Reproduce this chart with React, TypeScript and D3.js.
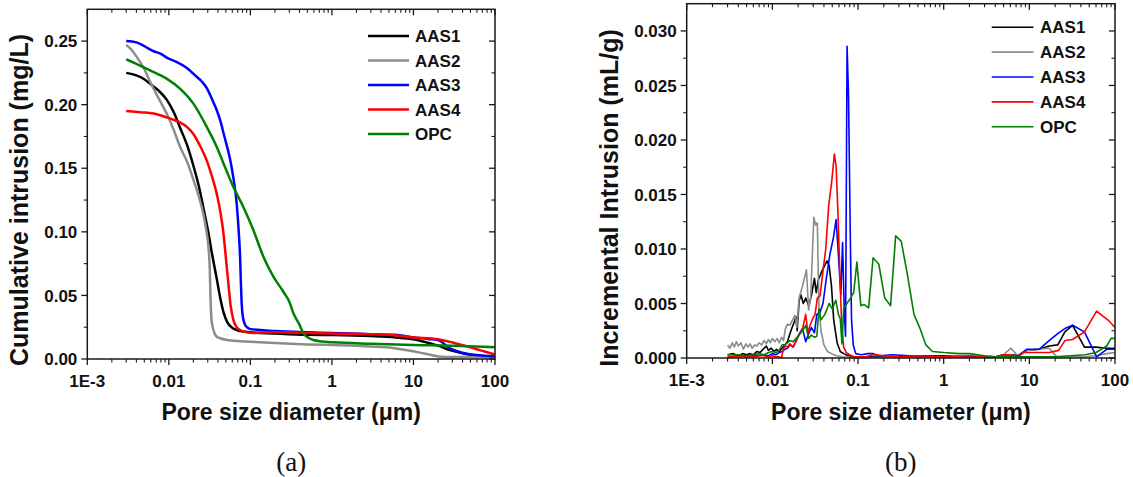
import React from 'react';
import * as d3 from 'd3';

type Pt = [number, number];

const seriesNames = ['AAS1', 'AAS2', 'AAS3', 'AAS4', 'OPC'];
const seriesColors = ['#000000', '#8c8c8c', '#0000ff', '#ff0000', '#008000'];

const xMajorTicks = [0.001, 0.01, 0.1, 1, 10, 100];
const xTickLabels = ['1E-3', '0.01', '0.1', '1', '10', '100'];

const cumTicks = [0, 0.05, 0.1, 0.15, 0.2, 0.25];
const cumTickLabels = ['0.00', '0.05', '0.10', '0.15', '0.20', '0.25'];
const incTicks = [0, 0.005, 0.01, 0.015, 0.02, 0.025, 0.03];
const incTickLabels = ['0.000', '0.005', '0.010', '0.015', '0.020', '0.025', '0.030'];

// (a) Cumulative intrusion, x = pore diameter (µm)
const cumAAS1: Pt[] = [[0.003,0.225],[0.004,0.223],[0.005,0.220],[0.006,0.216],[0.0075,0.211],[0.0094,0.204],[0.0115,0.194],[0.0137,0.182],[0.017,0.167],[0.020,0.152],[0.0235,0.135],[0.0265,0.119],[0.030,0.102],[0.034,0.082],[0.0387,0.063],[0.043,0.047],[0.0467,0.037],[0.052,0.029],[0.0617,0.024],[0.075,0.022],[0.098,0.021],[0.2,0.020],[0.5,0.019],[1,0.0188],[3,0.018],[6,0.017],[10,0.0155],[15,0.0128],[20,0.0105],[28,0.007],[40,0.0045],[60,0.0026],[100,0.002]];
const cumAAS2: Pt[] = [[0.003,0.247],[0.0035,0.243],[0.004,0.238],[0.005,0.228],[0.006,0.217],[0.0075,0.205],[0.0094,0.193],[0.0115,0.180],[0.0137,0.167],[0.017,0.154],[0.020,0.141],[0.0235,0.127],[0.0265,0.114],[0.029,0.100],[0.0306,0.088],[0.0318,0.070],[0.0325,0.046],[0.0335,0.030],[0.0352,0.0228],[0.038,0.018],[0.0425,0.0163],[0.055,0.0148],[0.075,0.014],[0.098,0.0136],[0.2,0.0125],[0.5,0.0115],[1,0.011],[2,0.0105],[3,0.0098],[5,0.009],[8,0.007],[12,0.005],[17,0.003],[22,0.0018],[30,0.0015],[60,0.0015],[100,0.0015]];
const cumAAS3: Pt[] = [[0.003,0.250],[0.004,0.249],[0.005,0.246],[0.0065,0.242],[0.008,0.240],[0.0094,0.237],[0.012,0.234],[0.0165,0.229],[0.021,0.223],[0.0255,0.218],[0.0292,0.213],[0.034,0.204],[0.0385,0.196],[0.0425,0.188],[0.048,0.175],[0.0564,0.157],[0.062,0.142],[0.068,0.122],[0.072,0.100],[0.0748,0.080],[0.0765,0.060],[0.078,0.045],[0.081,0.033],[0.086,0.027],[0.093,0.0245],[0.1,0.0235],[0.2,0.022],[0.5,0.021],[1,0.0205],[3,0.0195],[6,0.019],[10,0.017],[15,0.0158],[20,0.015],[28,0.0083],[41,0.0047],[74,0.0025],[100,0.002]];
const cumAAS4: Pt[] = [[0.003,0.195],[0.0045,0.194],[0.0065,0.193],[0.0094,0.190],[0.0115,0.188],[0.0137,0.186],[0.017,0.182],[0.020,0.177],[0.024,0.168],[0.0292,0.156],[0.034,0.143],[0.0387,0.130],[0.043,0.115],[0.0467,0.099],[0.050,0.080],[0.0537,0.0595],[0.057,0.043],[0.0617,0.031],[0.068,0.025],[0.0748,0.0228],[0.09,0.021],[0.109,0.0205],[0.2,0.021],[0.5,0.0205],[1,0.020],[3,0.0195],[5,0.019],[10,0.017],[20,0.0155],[30,0.013],[45,0.010],[65,0.007],[100,0.0035]];
const cumOPC: Pt[] = [[0.003,0.2357],[0.004,0.232],[0.00588,0.227],[0.0094,0.2205],[0.0137,0.2126],[0.020,0.2008],[0.0292,0.1825],[0.0387,0.1668],[0.0467,0.154],[0.0617,0.1354],[0.082,0.1196],[0.109,0.1013],[0.1445,0.0804],[0.1915,0.0647],[0.254,0.0529],[0.3,0.045],[0.337,0.0359],[0.4,0.027],[0.447,0.0202],[0.52,0.0165],[0.593,0.0149],[0.75,0.0138],[1.05,0.0131],[3,0.012],[10,0.011],[30,0.0105],[60,0.0098],[100,0.0092]];

// (b) Incremental intrusion
const incAAS1: Pt[] = [[0.003,0.0003],[0.0035,0.0004],[0.004,0.0002],[0.0045,0.0004],[0.005,0.0003],[0.0055,0.0004],[0.006,0.0003],[0.0066,0.0006],[0.0072,0.0005],[0.0078,0.0008],[0.0085,0.0011],[0.009,0.0007],[0.0097,0.0009],[0.0105,0.0006],[0.0112,0.0008],[0.012,0.0006],[0.013,0.0009],[0.014,0.0012],[0.015,0.0015],[0.016,0.0022],[0.017,0.0028],[0.018,0.0033],[0.0188,0.0038],[0.0195,0.0025],[0.0205,0.0052],[0.0215,0.0058],[0.023,0.0050],[0.0245,0.0055],[0.0265,0.0048],[0.0285,0.0057],[0.031,0.0073],[0.0325,0.0060],[0.0345,0.0072],[0.038,0.0080],[0.0435,0.0089],[0.046,0.0085],[0.049,0.0066],[0.052,0.0035],[0.057,0.0014],[0.062,0.0006],[0.068,0.0004],[0.077,0.0002],[0.09,0.0001],[0.12,0.0001],[0.2,0.0001],[0.5,0.0001],[1,0.0001],[2,0.0001],[4,0.0001],[5,0.0003],[6.2,0.0003],[7.4,0.0002],[9.3,0.0007],[13,0.0008],[17,0.0011],[21.5,0.0012],[26,0.0024],[32,0.0030],[44,0.0010],[60,0.0010],[80,0.0009],[100,0.0009]];
const incAAS2: Pt[] = [[0.003,0.0012],[0.0032,0.0009],[0.0034,0.0014],[0.0036,0.0010],[0.0038,0.0015],[0.004,0.0011],[0.0043,0.0014],[0.0046,0.0008],[0.0049,0.0013],[0.0052,0.0010],[0.0055,0.0013],[0.0058,0.0009],[0.0062,0.0012],[0.0066,0.0011],[0.007,0.0014],[0.0075,0.0012],[0.008,0.0016],[0.0085,0.0013],[0.009,0.0017],[0.0095,0.0014],[0.01,0.0018],[0.0107,0.0015],[0.0114,0.0018],[0.012,0.0014],[0.0128,0.0019],[0.0135,0.0016],[0.0142,0.0027],[0.015,0.0031],[0.016,0.0030],[0.017,0.0034],[0.0183,0.0039],[0.0193,0.0028],[0.0205,0.0055],[0.0225,0.0066],[0.025,0.0081],[0.0265,0.0044],[0.028,0.0055],[0.0305,0.0129],[0.032,0.0122],[0.0335,0.0124],[0.035,0.0045],[0.037,0.0025],[0.040,0.0012],[0.044,0.0006],[0.049,0.0004],[0.056,0.0002],[0.066,0.0001],[0.1,0.0],[0.3,0.0001],[1,0.0001],[3,0.0001],[4.5,0.0001],[5,0.0003],[6.1,0.0009],[7.3,0.0002],[9.3,0.0007],[13,0.0008],[17,0.0009],[21,0.0001],[30,0.0001],[45,0.0001],[60,0.0002],[80,0.0004],[100,0.0005]];
const incAAS3: Pt[] = [[0.003,0.0001],[0.004,0.0002],[0.005,0.0001],[0.006,0.0002],[0.007,0.0002],[0.008,0.0003],[0.009,0.0002],[0.010,0.0004],[0.011,0.0003],[0.012,0.0005],[0.013,0.0006],[0.014,0.0008],[0.015,0.0009],[0.016,0.0012],[0.0175,0.0010],[0.0188,0.0015],[0.0205,0.0022],[0.0225,0.0027],[0.0245,0.0015],[0.0265,0.0022],[0.0285,0.0028],[0.031,0.0023],[0.033,0.0040],[0.036,0.0042],[0.039,0.0050],[0.043,0.0075],[0.047,0.0095],[0.0515,0.0110],[0.0555,0.0127],[0.059,0.0095],[0.063,0.0058],[0.066,0.0106],[0.069,0.0045],[0.0715,0.0020],[0.0745,0.0286],[0.0775,0.0240],[0.081,0.0120],[0.084,0.0035],[0.088,0.0012],[0.094,0.0004],[0.11,0.0003],[0.13,0.0004],[0.15,0.0004],[0.18,0.0002],[0.25,0.0003],[0.4,0.0002],[1,0.0002],[2,0.0001],[4,0.0001],[5,0.0003],[6.2,0.0003],[7.4,0.0002],[9.3,0.0008],[13,0.0008],[17,0.0016],[22,0.0023],[26,0.0027],[32,0.0030],[44,0.0024],[61,0.0001],[80,0.0008],[100,0.0008]];
const incAAS4: Pt[] = [[0.003,0.0001],[0.004,0.0001],[0.005,0.0002],[0.006,0.0001],[0.007,0.0002],[0.008,0.0002],[0.009,0.0001],[0.010,0.0002],[0.011,0.0001],[0.012,0.0001],[0.0128,0.0],[0.0134,0.0008],[0.0142,0.0011],[0.015,0.0010],[0.016,0.0013],[0.0175,0.0010],[0.019,0.0016],[0.0205,0.0021],[0.0225,0.0027],[0.0245,0.0040],[0.026,0.0023],[0.0275,0.0030],[0.0295,0.0036],[0.0315,0.0040],[0.0335,0.0055],[0.036,0.0057],[0.039,0.0080],[0.042,0.0100],[0.0455,0.0140],[0.049,0.0160],[0.053,0.0187],[0.0555,0.0176],[0.0585,0.0130],[0.0615,0.0075],[0.0645,0.0030],[0.068,0.0010],[0.073,0.0005],[0.08,0.0003],[0.09,0.0001],[0.12,0.0001],[0.15,0.0003],[0.2,0.0002],[0.3,0.0001],[0.5,0.0002],[1,0.0001],[2,0.0002],[4,0.0001],[5,0.0003],[6.2,0.0003],[7.4,0.0001],[8.5,0.0005],[13,0.0005],[17,0.0005],[22,0.0007],[26,0.0016],[32,0.0017],[44,0.0024],[61,0.0043],[85,0.0034],[100,0.0028]];
const incOPC: Pt[] = [[0.003,0.0003],[0.004,0.0003],[0.005,0.0002],[0.006,0.0003],[0.007,0.0004],[0.008,0.0003],[0.009,0.0005],[0.010,0.0006],[0.011,0.0005],[0.012,0.0007],[0.013,0.0012],[0.014,0.0012],[0.015,0.0014],[0.016,0.0016],[0.0175,0.0015],[0.019,0.0018],[0.0205,0.0021],[0.0225,0.0025],[0.0245,0.0030],[0.0265,0.0018],[0.0285,0.0021],[0.031,0.0019],[0.033,0.0020],[0.035,0.0045],[0.037,0.0035],[0.041,0.0040],[0.046,0.0050],[0.050,0.0045],[0.055,0.0053],[0.059,0.0040],[0.062,0.0036],[0.065,0.0013],[0.068,0.0045],[0.074,0.0050],[0.082,0.0055],[0.089,0.0060],[0.097,0.0088],[0.103,0.0065],[0.108,0.0048],[0.118,0.0049],[0.133,0.0046],[0.150,0.0092],[0.175,0.0086],[0.205,0.0055],[0.24,0.0048],[0.275,0.0112],[0.32,0.0107],[0.38,0.0075],[0.45,0.0040],[0.53,0.0027],[0.62,0.0012],[0.74,0.0006],[1,0.0005],[1.5,0.0004],[2,0.0004],[3,0.0002],[4,0.0001],[6,0.0001],[10,0.0001],[20,0.0001],[30,0.0002],[45,0.0003],[60,0.0005],[80,0.0011],[90,0.0018],[100,0.0018]];

const cumSeries = [cumAAS1, cumAAS2, cumAAS3, cumAAS4, cumOPC];
const incSeries = [incAAS1, incAAS2, incAAS3, incAAS4, incOPC];

const FONT = '"Liberation Sans", Arial, Helvetica, sans-serif';
const AXIS = '#1a1a1a';

interface PanelProps {
  left: number; right: number; top: number; bottom: number;
  yMax: number; yTicks: number[]; yLabels: string[]; yMinorStep: number;
  series: Pt[][]; lineWidth: number; smooth: boolean;
  yTitle: string; yTitleX: number; yTitleY: number; caption: string;
  legend: { x1: number; x2: number; tx: number; y0: number; dy: number };
}

function Panel(p: PanelProps) {
  const x = d3.scaleLog().domain([0.001, 100]).range([p.left, p.right]);
  const y = d3.scaleLinear().domain([0, p.yMax]).range([p.bottom, p.top]);
  const minorX = x.ticks().filter(t => !xMajorTicks.some(m => Math.abs(m - t) / m < 1e-6));
  const minorY = d3.range(0, p.yMax + 1e-9, p.yMinorStep).filter(v => !p.yTicks.some(m => Math.abs(m - v) < 1e-9)).filter(v => Math.abs(y(v) - p.top) > 1);
  const line = d3.line<Pt>().x(d => x(d[0])).y(d => y(d[1])).curve(p.smooth ? d3.curveMonotoneX : d3.curveLinear);
  const cx = (p.left + p.right) / 2;
  const maj = 6, mnr = 3.5;
  return (
    <g>
      {p.series.map((s, i) => (
        <path key={i} d={line(s) || ''} fill="none" stroke={seriesColors[i]} strokeWidth={p.lineWidth} strokeLinejoin="round" />
      ))}
      <rect x={p.left} y={p.top} width={p.right - p.left} height={p.bottom - p.top} fill="none" stroke={AXIS} strokeWidth={1.5} />
      {xMajorTicks.map((t, i) => (
        <g key={'xm' + i}>
          <line x1={x(t)} x2={x(t)} y1={p.bottom} y2={p.bottom + maj} stroke={AXIS} strokeWidth={1.3} />
          <line x1={x(t)} x2={x(t)} y1={p.top} y2={p.top + maj} stroke={AXIS} strokeWidth={1.3} />
          <text x={x(t)} y={p.bottom + 28} textAnchor="middle" fontFamily={FONT} fontWeight="bold" fontSize={17} fill="#111">{xTickLabels[i]}</text>
        </g>
      ))}
      {minorX.map((t, i) => (
        <g key={'xn' + i}>
          <line x1={x(t)} x2={x(t)} y1={p.bottom} y2={p.bottom + mnr} stroke={AXIS} strokeWidth={1.1} />
          <line x1={x(t)} x2={x(t)} y1={p.top} y2={p.top + mnr} stroke={AXIS} strokeWidth={1.1} />
        </g>
      ))}
      {p.yTicks.map((t, i) => (
        <g key={'ym' + i}>
          <line x1={p.left - maj} x2={p.left} y1={y(t)} y2={y(t)} stroke={AXIS} strokeWidth={1.3} />
          <line x1={p.right - maj} x2={p.right} y1={y(t)} y2={y(t)} stroke={AXIS} strokeWidth={1.3} />
          <text x={p.left - 10} y={y(t)} dy="0.36em" textAnchor="end" fontFamily={FONT} fontWeight="bold" fontSize={17} fill="#111">{p.yLabels[i]}</text>
        </g>
      ))}
      {minorY.map((t, i) => (
        <g key={'yn' + i}>
          <line x1={p.left - mnr} x2={p.left} y1={y(t)} y2={y(t)} stroke={AXIS} strokeWidth={1.1} />
          <line x1={p.right - mnr} x2={p.right} y1={y(t)} y2={y(t)} stroke={AXIS} strokeWidth={1.1} />
        </g>
      ))}
      {seriesNames.map((n, i) => (
        <g key={'lg' + i}>
          <line x1={p.legend.x1} x2={p.legend.x2} y1={p.legend.y0 + i * p.legend.dy} y2={p.legend.y0 + i * p.legend.dy} stroke={seriesColors[i]} strokeWidth={p.lineWidth} />
          <text x={p.legend.tx} y={p.legend.y0 + i * p.legend.dy} dy="0.36em" fontFamily={FONT} fontWeight="bold" fontSize={17} fill="#111">{n}</text>
        </g>
      ))}
      <text transform={`translate(${p.yTitleX},${p.yTitleY}) rotate(-90)`} textAnchor="middle" fontFamily={FONT} fontWeight="bold" fontSize={25} fill="#111">{p.yTitle}</text>
      <text x={cx} y={420} textAnchor="middle" fontFamily={FONT} fontWeight="bold" fontSize={23} fill="#111">Pore size diameter (μm)</text>
      <text x={cx} y={471} textAnchor="middle" fontFamily='"Liberation Serif", "Times New Roman", serif' fontSize={27} fill="#111">{p.caption}</text>
    </g>
  );
}

export default function App() {
  return (
    <svg width={1133} height={477} style={{ position: 'absolute', left: 0, top: 0, background: '#fff' }}>
      <rect width={1133} height={477} fill="#fff" />
      <Panel left={87.3} right={495} top={9.3} bottom={359} yMax={0.275} yTicks={cumTicks} yLabels={cumTickLabels} yMinorStep={0.025}
        series={cumSeries} lineWidth={2.5} smooth={true} yTitle="Cumulative intrusion (mg/L)" yTitleX={28} yTitleY={200} caption="(a)"
        legend={{ x1: 368, x2: 409, tx: 415, y0: 36, dy: 24.5 }} />
      <Panel left={686.7} right={1115} top={3.7} bottom={358} yMax={0.0325} yTicks={incTicks} yLabels={incTickLabels} yMinorStep={0.0025}
        series={incSeries} lineWidth={1.6} smooth={false} yTitle="Incremental Intrusion (mL/g)" yTitleX={618} yTitleY={198} caption="(b)"
        legend={{ x1: 991.7, x2: 1033.5, tx: 1040, y0: 27.3, dy: 24.85 }} />
    </svg>
  );
}
